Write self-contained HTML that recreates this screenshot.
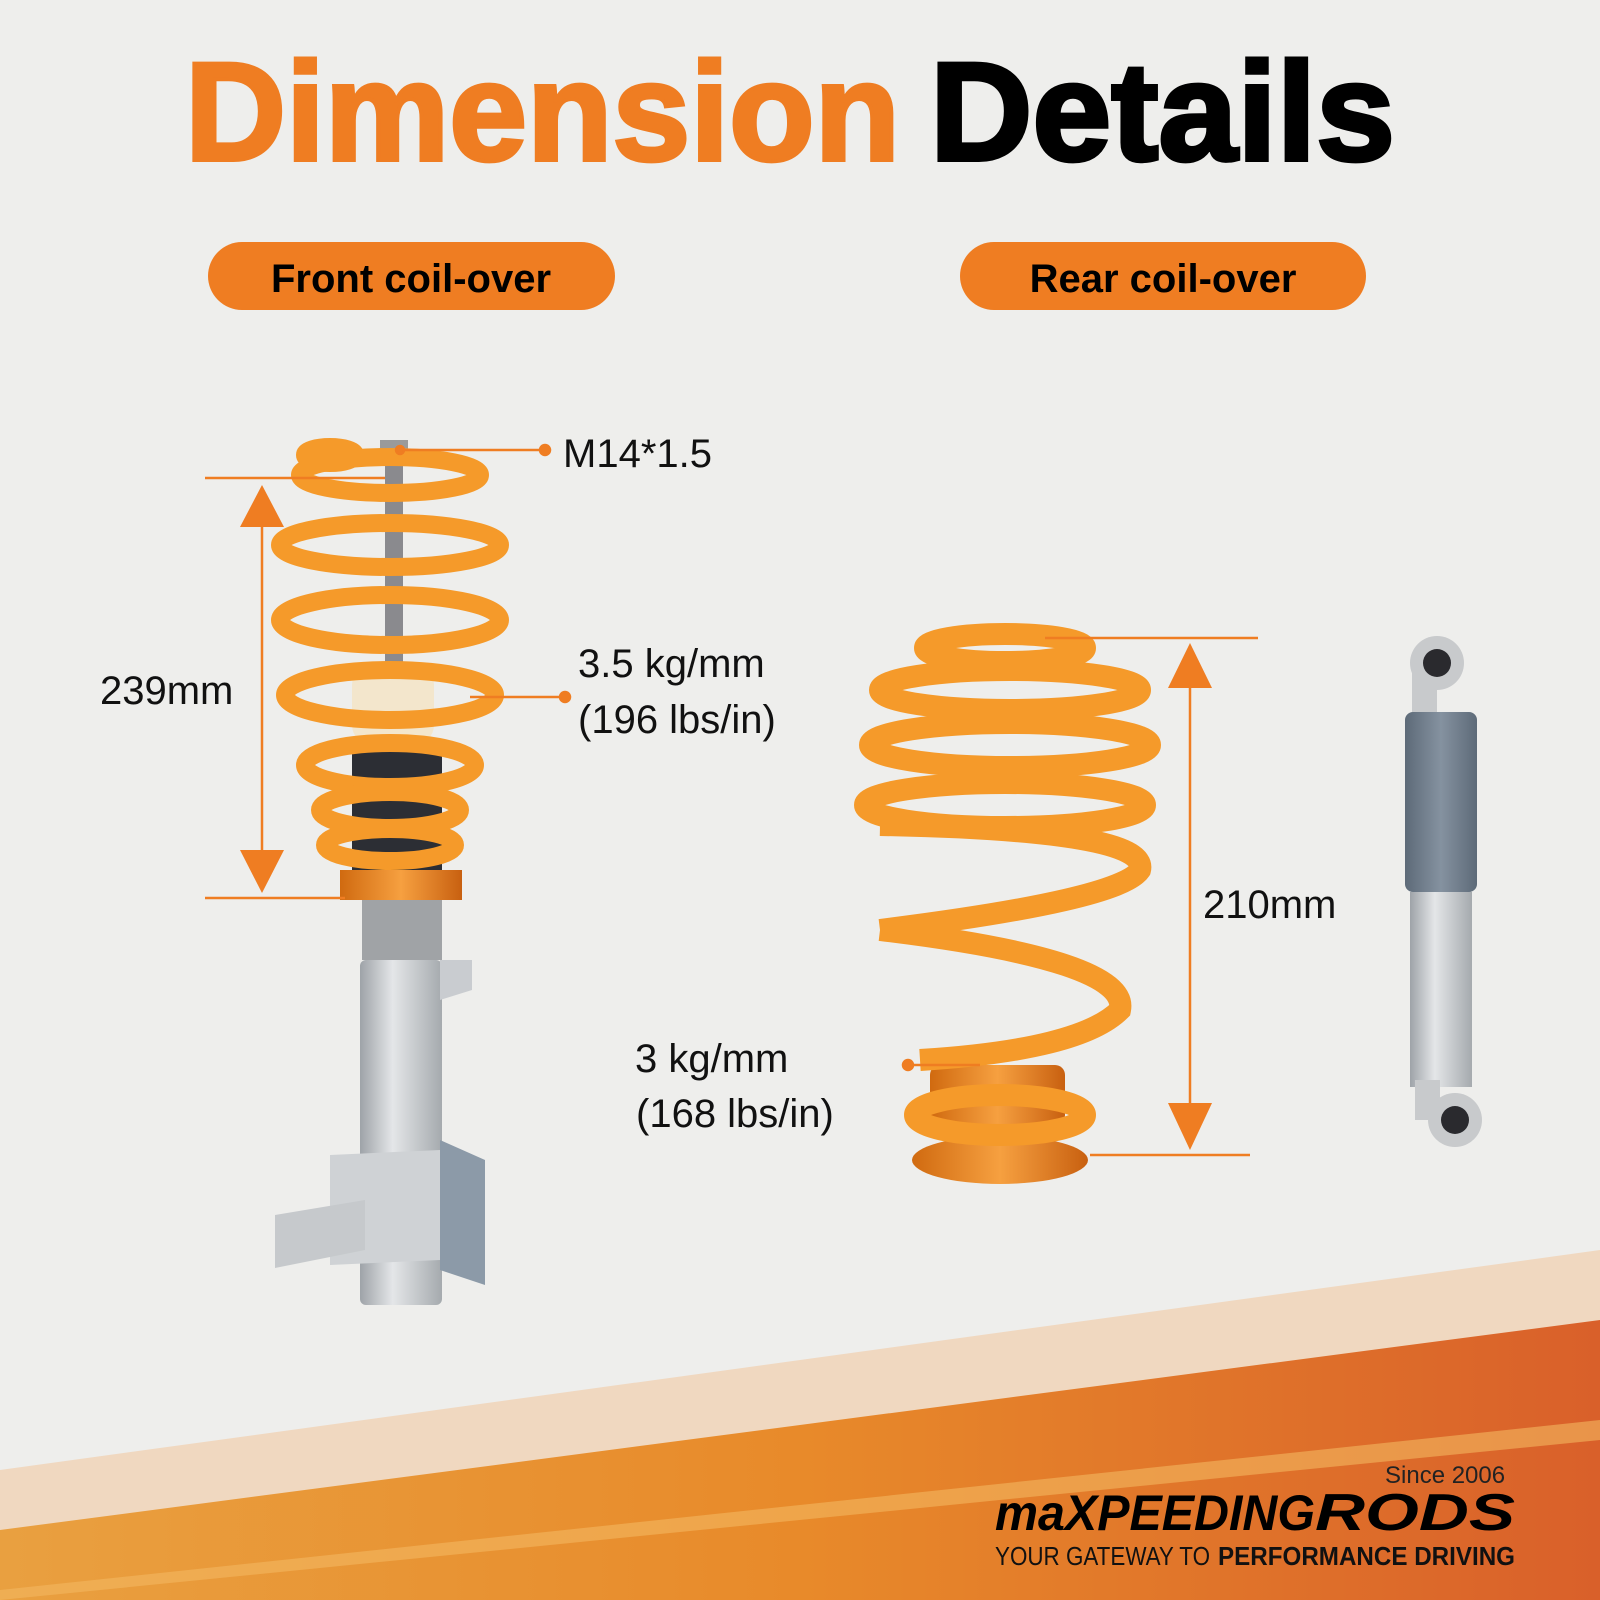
<!DOCTYPE html>
<html><head><meta charset="utf-8"><style>body{margin:0}svg{display:block}</style></head><body>
<svg width="1600" height="1600" viewBox="0 0 1600 1600" xmlns="http://www.w3.org/2000/svg" font-family="Liberation Sans, sans-serif">
<defs>
<linearGradient id="band" x1="0" y1="0" x2="1" y2="0"><stop offset="0" stop-color="#e9a040"/><stop offset=".5" stop-color="#e88a2a"/><stop offset="1" stop-color="#d9602a"/></linearGradient>
<linearGradient id="sil" x1="0" x2="1"><stop offset="0" stop-color="#9ea3a8"/><stop offset=".4" stop-color="#e4e6e8"/><stop offset="1" stop-color="#a5aaae"/></linearGradient>
<linearGradient id="gr" x1="0" x2="1"><stop offset="0" stop-color="#5d6a78"/><stop offset=".5" stop-color="#8592a0"/><stop offset="1" stop-color="#5d6a78"/></linearGradient>
<linearGradient id="cu" x1="0" x2="1"><stop offset="0" stop-color="#d06a10"/><stop offset=".5" stop-color="#f6a040"/><stop offset="1" stop-color="#c86010"/></linearGradient>
</defs>
<rect width="1600" height="1600" fill="#eeeeec"/>
<polygon points="0,1470 1600,1250 1600,1600 0,1600" fill="#f0d8c0"/>
<polygon points="0,1530 1600,1320 1600,1600 0,1600" fill="url(#band)"/>
<polygon points="0,1590 1600,1420 1600,1440 0,1600" fill="#f3b860" opacity=".6"/>
<!-- title -->
<text x="185" y="160" font-size="140" font-weight="bold" fill="#ef7d22" stroke="#ef7d22" stroke-width="4" textLength="715" lengthAdjust="spacingAndGlyphs">Dimension</text>
<text x="930" y="160" font-size="140" font-weight="bold" fill="#000" stroke="#000" stroke-width="4" textLength="465" lengthAdjust="spacingAndGlyphs">Details</text>
<rect x="208" y="242" width="407" height="68" rx="34" fill="#ef7d22"/>
<text x="411" y="292" font-size="40" font-weight="bold" text-anchor="middle">Front coil-over</text>
<rect x="960" y="242" width="406" height="68" rx="34" fill="#ef7d22"/>
<text x="1163" y="292" font-size="40" font-weight="bold" text-anchor="middle">Rear coil-over</text>
<!-- front strut -->
<rect x="385" y="440" width="18" height="240" fill="#8a8a8e"/>
<rect x="380" y="440" width="28" height="25" fill="#9a9a9a"/>
<rect x="352" y="665" width="82" height="80" rx="20" fill="#f3e6cc"/>
<rect x="352" y="740" width="90" height="130" fill="#2c2e34"/>
<rect x="340" y="870" width="122" height="30" fill="url(#cu)"/>
<rect x="362" y="900" width="80" height="60" fill="#a0a3a6"/>
<rect x="360" y="960" width="82" height="345" rx="6" fill="url(#sil)"/>
<polygon points="440,960 472,960 472,990 440,1000" fill="#c9ccd0"/>
<polygon points="440,1140 485,1160 485,1285 440,1270" fill="#8c9aa8"/>
<polygon points="330,1155 440,1150 440,1260 330,1265" fill="#cfd2d5"/>
<polygon points="275,1215 365,1200 365,1250 275,1268" fill="#c6c9cc"/>
<g fill="none" stroke="#f59a2a" stroke-width="18">
<ellipse cx="390" cy="475" rx="90" ry="18"/>
<ellipse cx="390" cy="545" rx="110" ry="22"/>
<ellipse cx="390" cy="620" rx="110" ry="25"/>
<ellipse cx="390" cy="695" rx="105" ry="25"/>
<ellipse cx="390" cy="765" rx="85" ry="22"/>
<ellipse cx="390" cy="810" rx="70" ry="18"/>
<ellipse cx="390" cy="845" rx="65" ry="16"/>
<ellipse cx="330" cy="455" rx="25" ry="8"/>
</g>
<!-- rear spring -->
<rect x="930" y="1065" width="135" height="60" rx="10" fill="url(#cu)"/>
<ellipse cx="1000" cy="1160" rx="88" ry="24" fill="url(#cu)"/>
<g fill="none" stroke="#f59a2a" stroke-width="22">
<ellipse cx="1005" cy="648" rx="80" ry="14"/>
<ellipse cx="1010" cy="690" rx="130" ry="20"/>
<ellipse cx="1010" cy="745" rx="140" ry="22"/>
<ellipse cx="1005" cy="805" rx="140" ry="22"/>
<path d="M880,825 Q1150,830 1140,870 Q1120,900 880,930"/>
<path d="M880,930 Q1130,960 1120,1010 Q1080,1050 920,1060"/>
<ellipse cx="1000" cy="1115" rx="85" ry="20"/>
</g>
<!-- rear shock -->
<rect x="1412" y="665" width="25" height="55" fill="#c8cacc"/>
<circle cx="1437" cy="663" r="27" fill="#c8cacc"/><circle cx="1437" cy="663" r="14" fill="#2a2a2e"/>
<rect x="1405" y="712" width="72" height="180" rx="8" fill="url(#gr)"/>
<rect x="1410" y="892" width="62" height="195" fill="url(#sil)"/>
<circle cx="1455" cy="1120" r="27" fill="#c8cacc"/><circle cx="1455" cy="1120" r="14" fill="#2a2a2e"/>
<rect x="1415" y="1080" width="25" height="40" fill="#c8cacc"/>
<!-- dimension lines -->
<g stroke="#ef7d22" stroke-width="2.5" fill="#ef7d22">
<line x1="205" y1="478" x2="385" y2="478"/>
<line x1="205" y1="898" x2="345" y2="898"/>
<line x1="262" y1="520" x2="262" y2="850"/>
<polygon points="240,527 284,527 262,485" stroke="none"/>
<polygon points="240,850 284,850 262,893" stroke="none"/>
<line x1="400" y1="450" x2="545" y2="450"/>
<circle cx="545" cy="450" r="5"/><circle cx="400" cy="450" r="4"/>
<line x1="470" y1="697" x2="565" y2="697"/><circle cx="565" cy="697" r="5"/>
<line x1="1045" y1="638" x2="1258" y2="638"/>
<line x1="1090" y1="1155" x2="1250" y2="1155"/>
<line x1="1190" y1="680" x2="1190" y2="1105"/>
<polygon points="1168,688 1212,688 1190,643" stroke="none"/>
<polygon points="1168,1103 1212,1103 1190,1150" stroke="none"/>
<line x1="908" y1="1065" x2="980" y2="1065"/><circle cx="908" cy="1065" r="5"/>
</g>
<g font-size="40" fill="#111">
<text x="100" y="704">239mm</text>
<text x="563" y="467">M14*1.5</text>
<text x="578" y="677">3.5 kg/mm</text>
<text x="578" y="733">(196 lbs/in)</text>
<text x="1203" y="918">210mm</text>
<text x="635" y="1072">3 kg/mm</text>
<text x="636" y="1127">(168 lbs/in)</text>
</g>
<!-- logo -->
<text x="995" y="1530" font-size="50" font-weight="bold" font-style="italic" textLength="320" lengthAdjust="spacingAndGlyphs">maXPEEDING</text>
<text x="1315" y="1530" font-size="52" font-weight="bold" font-style="italic" textLength="200" lengthAdjust="spacingAndGlyphs">RODS</text>
<text x="1385" y="1483" font-size="24" fill="#222">Since 2006</text>
<text x="995" y="1565" font-size="26" fill="#111" textLength="215" lengthAdjust="spacingAndGlyphs">YOUR GATEWAY TO</text>
<text x="1218" y="1565" font-size="26" font-weight="bold" fill="#111" textLength="297" lengthAdjust="spacingAndGlyphs">PERFORMANCE DRIVING</text>
</svg>
</body></html>
